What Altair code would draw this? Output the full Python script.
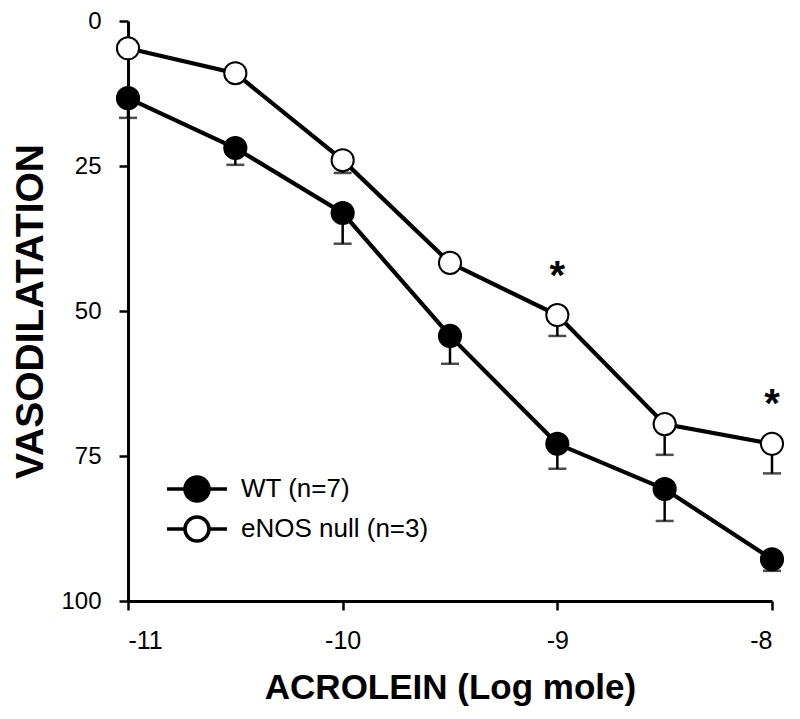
import altair as alt
import pandas as pd

# ---- data ----
doses = [-11, -10.5, -10, -9.5, -9, -8.5, -8]
wt_mean = [13.3, 21.9, 33.1, 54.3, 72.9, 80.7, 92.8]
wt_sem = [3.4, 2.9, 5.3, 4.8, 4.3, 5.5, 2.0]
enos_mean = [4.7, 9.0, 24.0, 41.7, 50.7, 69.5, 72.9]
enos_sem = [0.0, 0.0, 2.2, 0.0, 3.6, 5.3, 5.1]
series_labels = ["WT (n=7)", "eNOS null (n=3)"]
star_x = [-9, -8]
star_y = [43, 65]
x_ticks = [-11, -10, -9, -8]
y_ticks = [0, 25, 50, 75, 100]

rows = []
for lab, means, sems in [(series_labels[0], wt_mean, wt_sem), (series_labels[1], enos_mean, enos_sem)]:
    for d, m, s in zip(doses, means, sems):
        rows.append({"dose": d, "series": lab, "mean": m, "hi": m + s})
df = pd.DataFrame(rows)
stars = pd.DataFrame({"dose": star_x, "y": star_y, "t": ["*"] * len(star_x)})

FONT = "Liberation Sans"

xenc = alt.X("dose:Q", scale=alt.Scale(domain=[-11, -8], nice=False, zero=False),
             axis=alt.Axis(values=x_ticks, title="ACROLEIN (Log mole)",
                           labelExpr="datum.value + ''", labelPadding=18,
                           labelFontSize=25, titleFontSize=35, titlePadding=17))
yscale = alt.Scale(domain=[0, 100], reverse=True, nice=False)
yenc = alt.Y("mean:Q", scale=yscale,
             axis=alt.Axis(values=y_ticks, title="VASODILATATION", labelPadding=18,
                           labelFontSize=24, titleFontSize=39, titlePadding=10))

base = alt.Chart(df)

err_rule = base.mark_rule(color="black", strokeWidth=2.5).encode(
    x=xenc, y=yenc, y2="hi:Q", detail="series:N")
err_cap = base.mark_tick(color="black", orient="horizontal", size=18, thickness=2.5).encode(
    x="dose:Q", y=alt.Y("hi:Q", scale=yscale))
lines = base.mark_line(color="black", strokeWidth=4.2).encode(
    x="dose:Q", y="mean:Q", detail="series:N")
legend_path = "M-2,0L-0.8,0M0.8,0L2,0M-0.8,0A0.8,0.8,0,1,1,0.8,0A0.8,0.8,0,1,1,-0.8,0Z"
points = base.mark_point(shape="circle", filled=True, stroke="black", strokeWidth=2,
                         size=490, opacity=1).encode(
    x="dose:Q", y="mean:Q",
    fill=alt.Fill("series:N",
                  scale=alt.Scale(domain=series_labels, range=["black", "white"]),
                  legend=alt.Legend(title=None, orient="none", legendX=52, legendY=451,
                                    symbolType=legend_path, symbolSize=900,
                                    symbolStrokeColor="black", symbolStrokeWidth=3.5,
                                    labelFont=FONT, labelFontSize=26, labelColor="black",
                                    labelLimit=400, labelOffset=27, rowPadding=2)))
star_text = alt.Chart(stars).mark_text(text="*", font=FONT, fontSize=40, fontWeight="bold",
                                       color="black", baseline="middle", dy=7).encode(
    x="dose:Q", y=alt.Y("y:Q", scale=yscale))

chart = alt.layer(err_rule, err_cap, lines, points, star_text).properties(
    width=644, height=580,
    background="white",
    autosize=alt.AutoSizeParams(type="none"),
    padding={"left": 120, "top": 13, "right": 20, "bottom": 118},
).configure_view(stroke=None).configure_axis(
    grid=False, domainColor="black", domainWidth=3, tickColor="black", tickWidth=2.5,
    tickSize=9, labelFont=FONT, labelColor="black",
    titleFont=FONT, titleFontWeight="bold", titleColor="black",
)

chart.save("out.html", embed_options={"renderer": "svg", "actions": False})
